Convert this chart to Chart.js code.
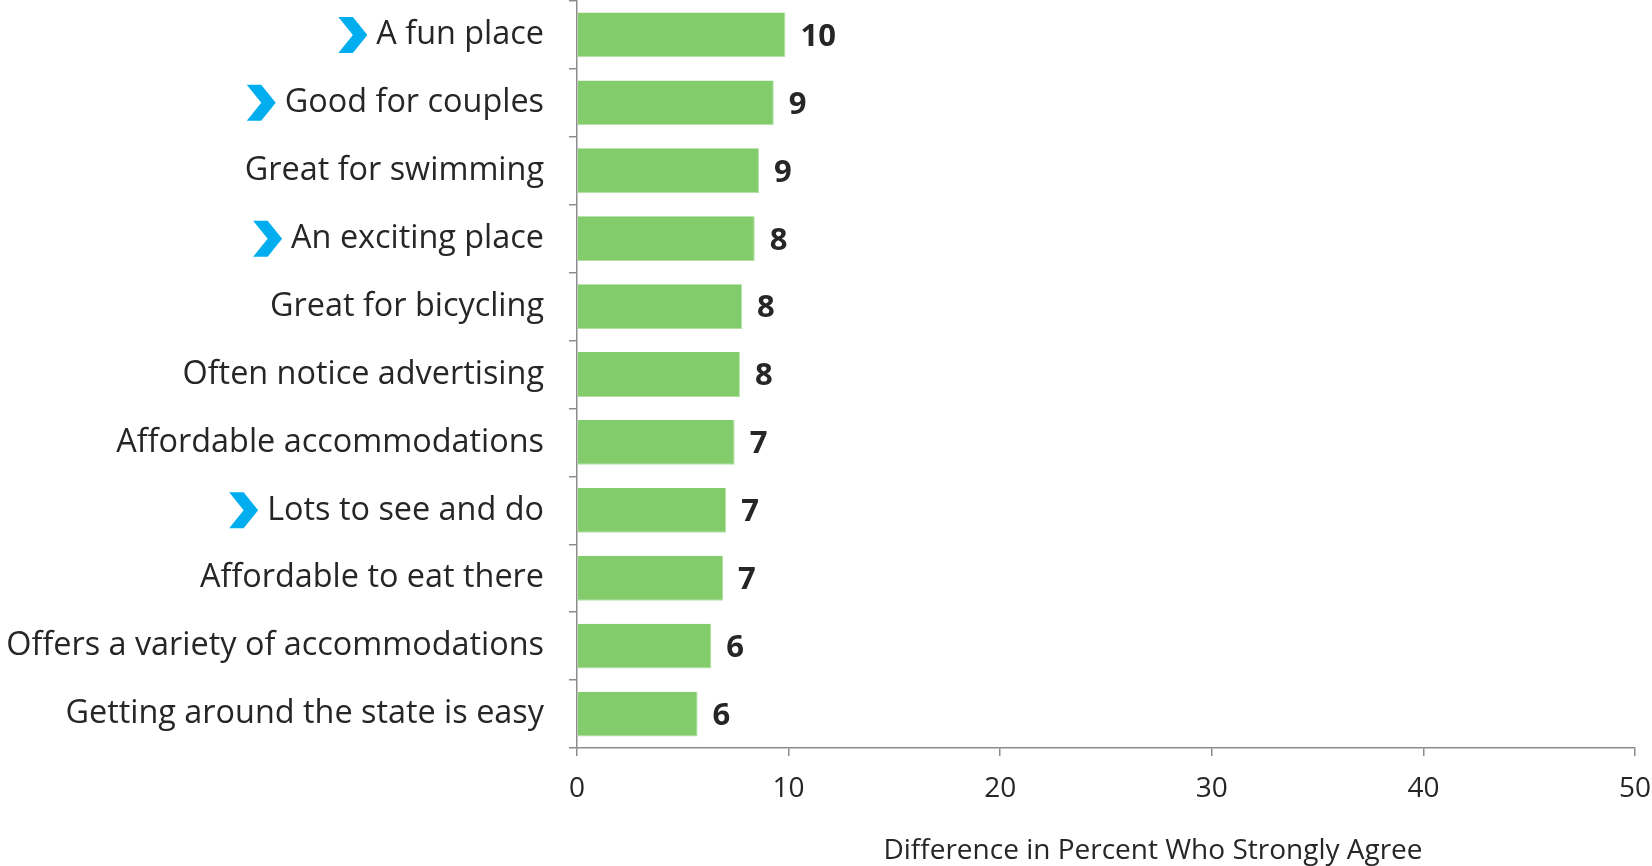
<!DOCTYPE html>
<html>
<head>
<meta charset="utf-8">
<script src="https://cdn.jsdelivr.net/npm/chart.js@4/dist/chart.umd.min.js"></script>
<style>
  html, body { margin: 0; padding: 0; background: #fff; }
  #wrap { width: 1652px; height: 866px; position: relative; }
</style>
</head>
<body>
<div id="wrap"><canvas id="c" width="1652" height="866"></canvas></div>
<script>
// attributes, top to bottom
const categories = [
  'A fun place',
  'Good for couples',
  'Great for swimming',
  'An exciting place',
  'Great for bicycling',
  'Often notice advertising',
  'Affordable accommodations',
  'Lots to see and do',
  'Affordable to eat there',
  'Offers a variety of accommodations',
  'Getting around the state is easy'
];
const values = [9.85, 9.3, 8.6, 8.4, 7.8, 7.7, 7.45, 7.05, 6.9, 6.35, 5.7];
const valueLabels = ['10', '9', '9', '8', '8', '8', '7', '7', '7', '6', '6'];
const flagged = [true, true, false, true, false, false, false, true, false, false, false];
const xTicks = [0, 10, 20, 30, 40, 50];
const xTitle = 'Difference in Percent Who Strongly Agree';

const FONT = '"Open Sans", "Liberation Sans", sans-serif';
const TEXT = '#262626';
const AXIS = '#8c8c8c';
const LABEL_SIZE = 32.4;
const TICK_LEN = 8;
const TICK_PAD = 25;

// value labels, chevrons and the axis title
const extras = {
  id: 'extras',
  afterDraw(chart) {
    const ctx = chart.ctx;
    const meta = chart.getDatasetMeta(0);
    const yScale = chart.scales.y;
    ctx.save();

    ctx.font = 'bold 31px ' + FONT;
    ctx.fillStyle = TEXT;
    ctx.textAlign = 'left';
    ctx.textBaseline = 'middle';
    meta.data.forEach((bar, i) => {
      ctx.fillText(valueLabels[i], bar.x + 15, bar.y + 2);
    });

    // blue chevrons in front of flagged labels
    ctx.font = LABEL_SIZE + 'px ' + FONT;
    const labelRight = yScale.right - TICK_LEN - TICK_PAD;
    categories.forEach((cat, i) => {
      if (!flagged[i]) return;
      const w = ctx.measureText(cat).width;
      const y = yScale.getPixelForTick(i);
      const h = 36, cw = 29;
      const x0 = labelRight - w - 9 - cw;
      ctx.fillStyle = '#00aeef';
      ctx.beginPath();
      ctx.moveTo(x0, y - h / 2);
      ctx.lineTo(x0 + cw * 0.5, y - h / 2);
      ctx.lineTo(x0 + cw, y);
      ctx.lineTo(x0 + cw * 0.5, y + h / 2);
      ctx.lineTo(x0, y + h / 2);
      ctx.lineTo(x0 + cw * 0.5, y);
      ctx.closePath();
      ctx.fill();
    });

    ctx.font = '28px ' + FONT;
    ctx.fillStyle = TEXT;
    ctx.textAlign = 'center';
    ctx.fillText(xTitle, 1153, 851);
    ctx.restore();
  }
};

new Chart(document.getElementById('c').getContext('2d'), {
  type: 'bar',
  data: {
    labels: categories,
    datasets: [{
      data: values,
      backgroundColor: '#82cc6c',
      borderColor: '#b4e0a6',
      borderWidth: { right: 1, bottom: 1, top: 0, left: 0 },
      borderSkipped: false,
      barPercentage: 0.66,
      categoryPercentage: 1
    }]
  },
  options: {
    indexAxis: 'y',
    responsive: false,
    animation: false,
    layout: { padding: { top: 1, right: 17, left: 0, bottom: 0 } },
    plugins: { legend: { display: false }, tooltip: { enabled: false } },
    scales: {
      y: {
        offset: true,
        afterFit: s => {
          s.width = 577;
          s.paddingTop = 0;
          s.paddingBottom = 0;
        },
        grid: { offset: true, drawOnChartArea: false, drawTicks: true, tickLength: TICK_LEN, color: AXIS, lineWidth: 1.5 },
        border: { display: true, color: AXIS, width: 1.5 },
        ticks: { color: TEXT, padding: TICK_PAD, font: { family: FONT, size: LABEL_SIZE } }
      },
      x: {
        min: 0,
        max: 50,
        afterFit: s => {
          s.height = 118;
          s.paddingLeft = 0;
          s.paddingRight = 0;
        },
        afterBuildTicks: s => { s.ticks = xTicks.map(v => ({ value: v })); },
        grid: { drawOnChartArea: false, drawTicks: true, tickLength: TICK_LEN, color: AXIS, lineWidth: 1.5 },
        border: { display: true, color: AXIS, width: 1.5 },
        ticks: { color: TEXT, padding: 16, font: { family: FONT, size: 28 } }
      }
    }
  },
  plugins: [extras]
});
</script>
</body>
</html>
